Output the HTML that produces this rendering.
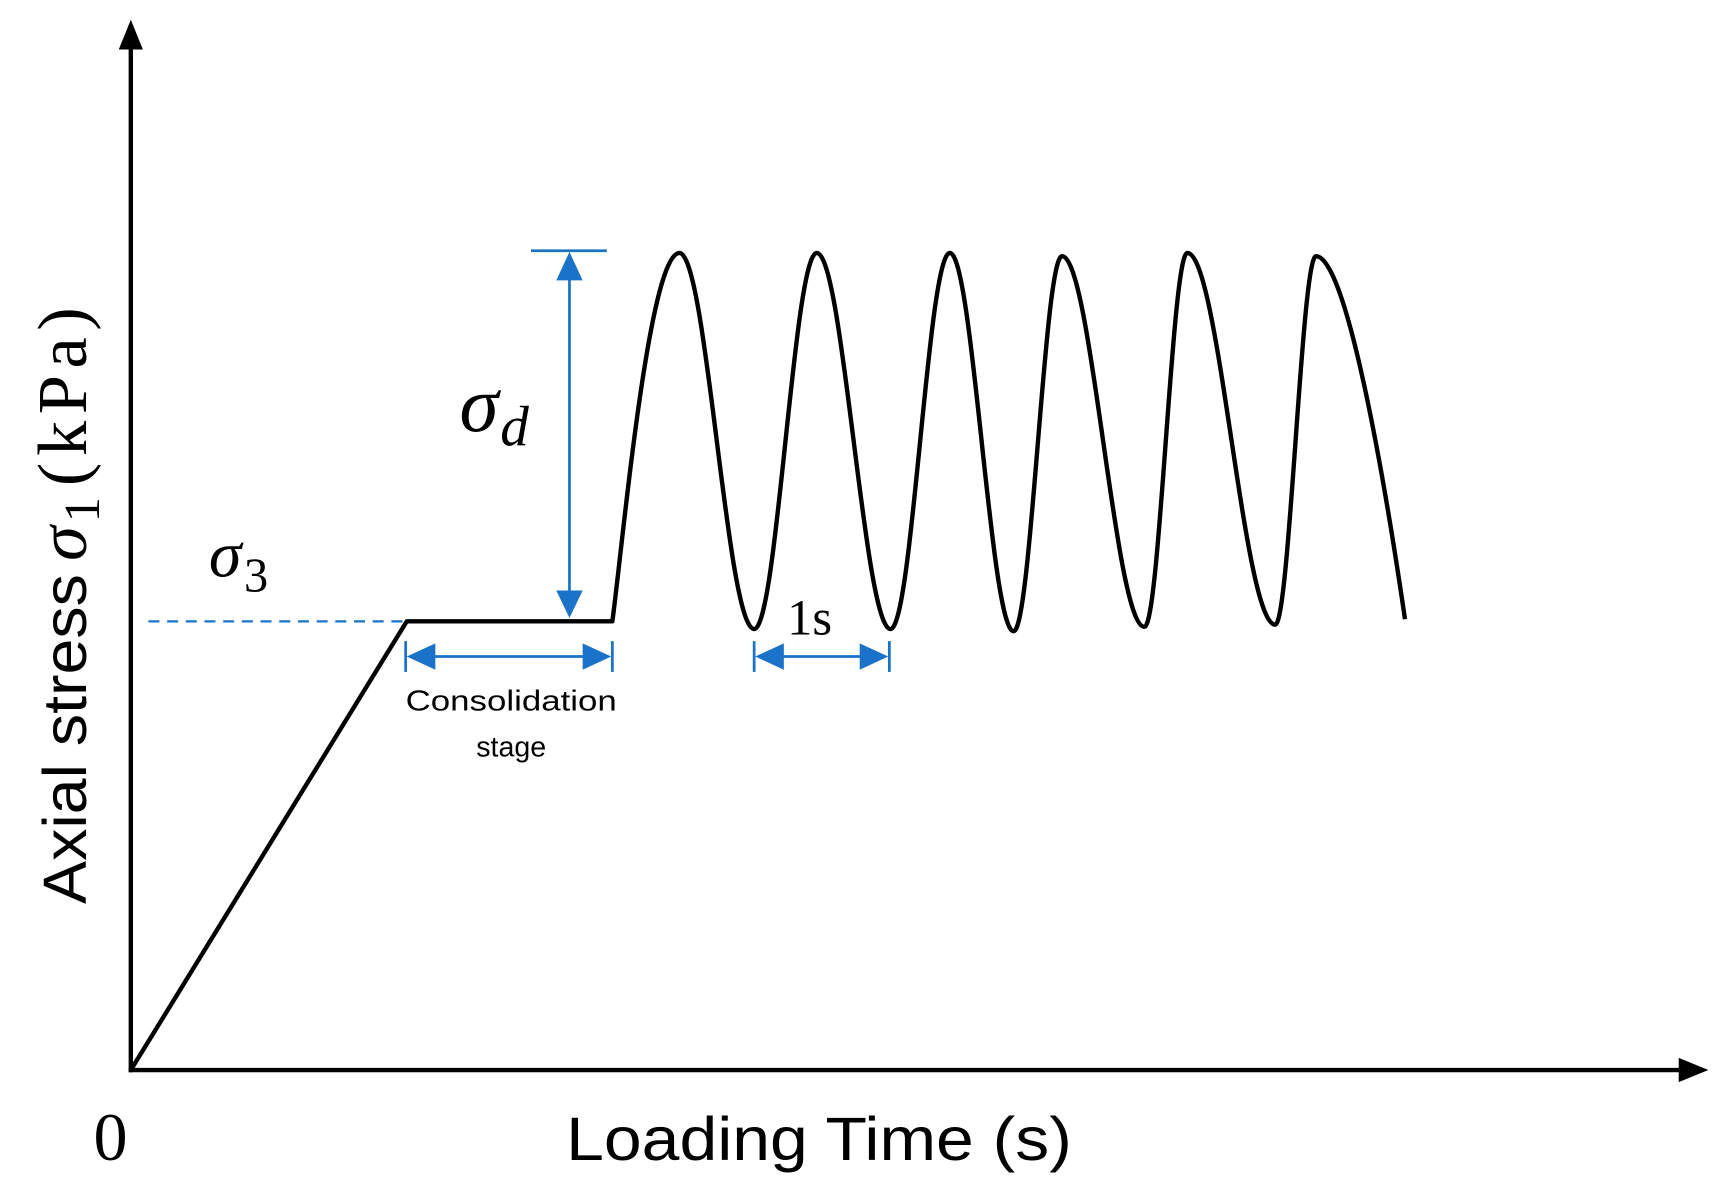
<!DOCTYPE html>
<html><head><meta charset="utf-8"><style>
html,body{margin:0;padding:0;background:#fff;}
svg{display:block;}
</style></head><body>
<svg width="1715" height="1180" viewBox="0 0 1560 1073" preserveAspectRatio="none" xmlns="http://www.w3.org/2000/svg">
<rect width="1560" height="1073" fill="#fff"/>
<line x1="119" y1="975" x2="119" y2="40" stroke="#000" stroke-width="4"/>
<polygon points="119,18 108,45 130,45" fill="#000"/>
<line x1="117" y1="973" x2="1530" y2="973" stroke="#000" stroke-width="4"/>
<polygon points="1554,973 1527,962 1527,984" fill="#000"/>
<line x1="135" y1="565" x2="370" y2="565" stroke="#1a73c8" stroke-width="2" stroke-dasharray="10,7"/>
<path d="M119,973 L370,565 L557,565 C566,500 590,230 618,230 C643,230 661,572 686,572 C707,572 722,230 743,230 C767,230 786,572 810,572 C830,572 844,230 864,230 C885,230 901,574 922,574 C938,574 950,233 966,233 C993,233 1014,570 1041,570 C1055,570 1066,230 1080,230 C1109,230 1131,568 1160,568 C1173,568 1184,233 1197,233 C1225,233 1260,440 1278,563" fill="none" stroke="#000" stroke-width="4" stroke-linejoin="round"/>
<g stroke="#1a73c8" stroke-width="2.5" fill="none">
<line x1="483" y1="228" x2="552" y2="228"/>
<line x1="518" y1="240" x2="518" y2="552"/>
<line x1="369" y1="583" x2="369" y2="611"/>
<line x1="557" y1="583" x2="557" y2="611"/>
<line x1="380" y1="597" x2="546" y2="597"/>
<line x1="686" y1="583" x2="686" y2="611"/>
<line x1="809" y1="583" x2="809" y2="611"/>
<line x1="697" y1="597" x2="798" y2="597"/>
</g>
<g fill="#1a73c8">
<polygon points="518,229 506,255 530,255"/>
<polygon points="518,562 506,537 530,537"/>
<polygon points="370,597 396,585 396,609"/>
<polygon points="556,597 530,585 530,609"/>
<polygon points="687,597 713,585 713,609"/>
<polygon points="808,597 782,585 782,609"/>
</g>
<text x="418" y="392" font-family="Liberation Serif, serif" font-style="italic" font-size="72">σ</text>
<text x="455" y="405" font-family="Liberation Serif, serif" font-style="italic" font-size="52">d</text>
<text x="190" y="524" font-family="Liberation Serif, serif" font-style="italic" font-size="60">σ</text>
<text x="222" y="538" font-family="Liberation Serif, serif" font-size="44">3</text>
<text x="716" y="577" font-family="Liberation Serif, serif" font-size="46">1s</text>
<text x="465" y="646" text-anchor="middle" font-family="Liberation Sans, sans-serif" font-size="26" textLength="192" lengthAdjust="spacingAndGlyphs">Consolidation</text>
<text x="465" y="688" text-anchor="middle" font-family="Liberation Sans, sans-serif" font-size="26">stage</text>
<text x="85" y="1055" font-family="Liberation Serif, serif" font-size="62">0</text>
<text x="515" y="1055" font-family="Liberation Sans, sans-serif" font-size="56" textLength="460" lengthAdjust="spacingAndGlyphs">Loading Time (s)</text>
<g transform="translate(78,822) rotate(-90)">
<text x="0" y="0" font-family="Liberation Sans, sans-serif" font-size="56" textLength="300" lengthAdjust="spacingAndGlyphs">Axial stress</text>
<text x="312" y="0" font-family="Liberation Serif, serif" font-style="italic" font-size="64">σ</text>
<text x="347" y="12" font-family="Liberation Serif, serif" font-size="46">1</text>
<text x="380" y="0" font-family="Liberation Serif, serif" font-size="64" letter-spacing="6">(kPa)</text>
</g>
</svg>
</body></html>
